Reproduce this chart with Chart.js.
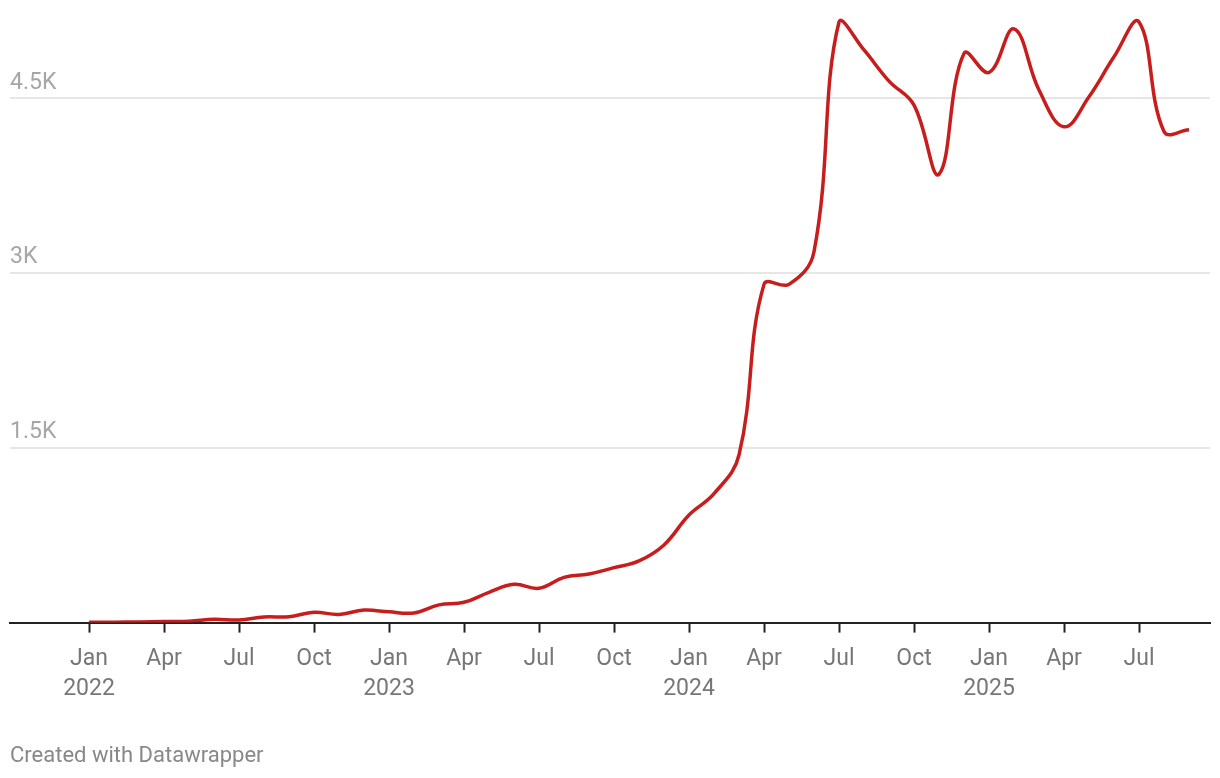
<!DOCTYPE html>
<html>
<head>
<meta charset="utf-8">
<script src="https://cdn.jsdelivr.net/npm/chart.js@4.4.1/dist/chart.umd.min.js"></script>
<style>
  html, body { margin: 0; padding: 0; background: #ffffff; }
  #wrap { width: 1220px; height: 778px; position: relative; }
</style>
</head>
<body>
<div id="wrap"><canvas id="c" width="1220" height="778"></canvas></div>
<script>
// Monthly categories (Jan 2022 – Sep 2025)
const months = [
  'Jan 2022','Feb 2022','Mar 2022','Apr 2022','May 2022','Jun 2022','Jul 2022','Aug 2022','Sep 2022','Oct 2022','Nov 2022','Dec 2022',
  'Jan 2023','Feb 2023','Mar 2023','Apr 2023','May 2023','Jun 2023','Jul 2023','Aug 2023','Sep 2023','Oct 2023','Nov 2023','Dec 2023',
  'Jan 2024','Feb 2024','Mar 2024','Apr 2024','May 2024','Jun 2024','Jul 2024','Aug 2024','Sep 2024','Oct 2024','Nov 2024','Dec 2024',
  'Jan 2025','Feb 2025','Mar 2025','Apr 2025','May 2025','Jun 2025','Jul 2025','Aug 2025','Sep 2025'
];

// Series values
const values = [
  3, 4, 6, 10, 12, 28, 22, 48, 50, 88, 70, 107,
  92, 83, 152, 174, 260, 328, 294, 388, 417, 471, 529, 666,
  923, 1105, 1437, 2900, 2900, 3180, 5150, 4910, 4643, 4437, 3845, 4880,
  4717, 5090, 4566, 4251, 4509, 4851, 5150, 4210, 4225
];

// X-axis tick labels (quarterly)
const xTickMonths = ['Jan 2022','Apr 2022','Jul 2022','Oct 2022','Jan 2023','Apr 2023','Jul 2023','Oct 2023',
                     'Jan 2024','Apr 2024','Jul 2024','Oct 2024','Jan 2025','Apr 2025','Jul 2025'];
const xTickLabels = [['Jan','2022'],['Apr'],['Jul'],['Oct'],['Jan','2023'],['Apr'],['Jul'],['Oct'],
                     ['Jan','2024'],['Apr'],['Jul'],['Oct'],['Jan','2025'],['Apr'],['Jul']];

// Y-axis ticks
const yTickValues = [0, 1500, 3000, 4500];
const yTickLabels = ['', '1.5K', '3K', '4.5K'];

const points = values.map((v, i) => ({ x: i, y: v }));
const xTickIdx = xTickMonths.map(m => months.indexOf(m));

new Chart(document.getElementById('c'), {
  type: 'line',
  data: {
    datasets: [{
      data: points,
      borderColor: '#c71e1d',
      borderWidth: 3.5,
      pointRadius: 0,
      tension: 0.4,
      fill: false
    }]
  },
  options: {
    responsive: false,
    animation: false,
    devicePixelRatio: 1,
    layout: { padding: { left: 10, right: 10, top: 12, bottom: 0 } },
    plugins: {
      legend: { display: false },
      tooltip: { enabled: false },
      title: {
        display: true,
        text: 'Created with Datawrapper',
        position: 'bottom',
        align: 'start',
        color: '#888888',
        font: { family: 'Roboto', size: 22, weight: 'normal' },
        padding: { top: 27, bottom: 8 }
      }
    },
    scales: {
      x: {
        type: 'linear',
        min: -3.16,
        max: 44.84,
        afterBuildTicks: (s) => { s.ticks = xTickIdx.map(v => ({ value: v })); },
        ticks: {
          autoSkip: false,
          maxRotation: 0,
          color: '#777777',
          font: { family: 'Roboto', size: 23, lineHeight: 30 / 23 },
          padding: 12,
          callback: (v) => {
            const k = xTickIdx.indexOf(v);
            return k >= 0 ? xTickLabels[k] : null;
          }
        },
        grid: {
          drawOnChartArea: false,
          drawTicks: true,
          tickLength: 10,
          tickWidth: 2,
          tickColor: '#222222'
        },
        border: { display: true, color: '#222222', width: 2 }
      },
      y: {
        type: 'linear',
        min: 0,
        max: 5220,
        afterBuildTicks: (s) => { s.ticks = yTickValues.map(v => ({ value: v })); },
        ticks: {
          mirror: true,
          padding: 0,
          labelOffset: -15,
          color: '#a6a6a6',
          font: { family: 'Roboto', size: 23 },
          callback: (v) => {
            const k = yTickValues.indexOf(v);
            return k >= 0 ? yTickLabels[k] : '';
          }
        },
        grid: {
          drawTicks: false,
          lineWidth: 2,
          color: (ctx) => (ctx.tick && ctx.tick.value === 0) ? 'rgba(0,0,0,0)' : '#e6e6e6'
        },
        border: { display: false }
      }
    }
  }
});
</script>
</body>
</html>
